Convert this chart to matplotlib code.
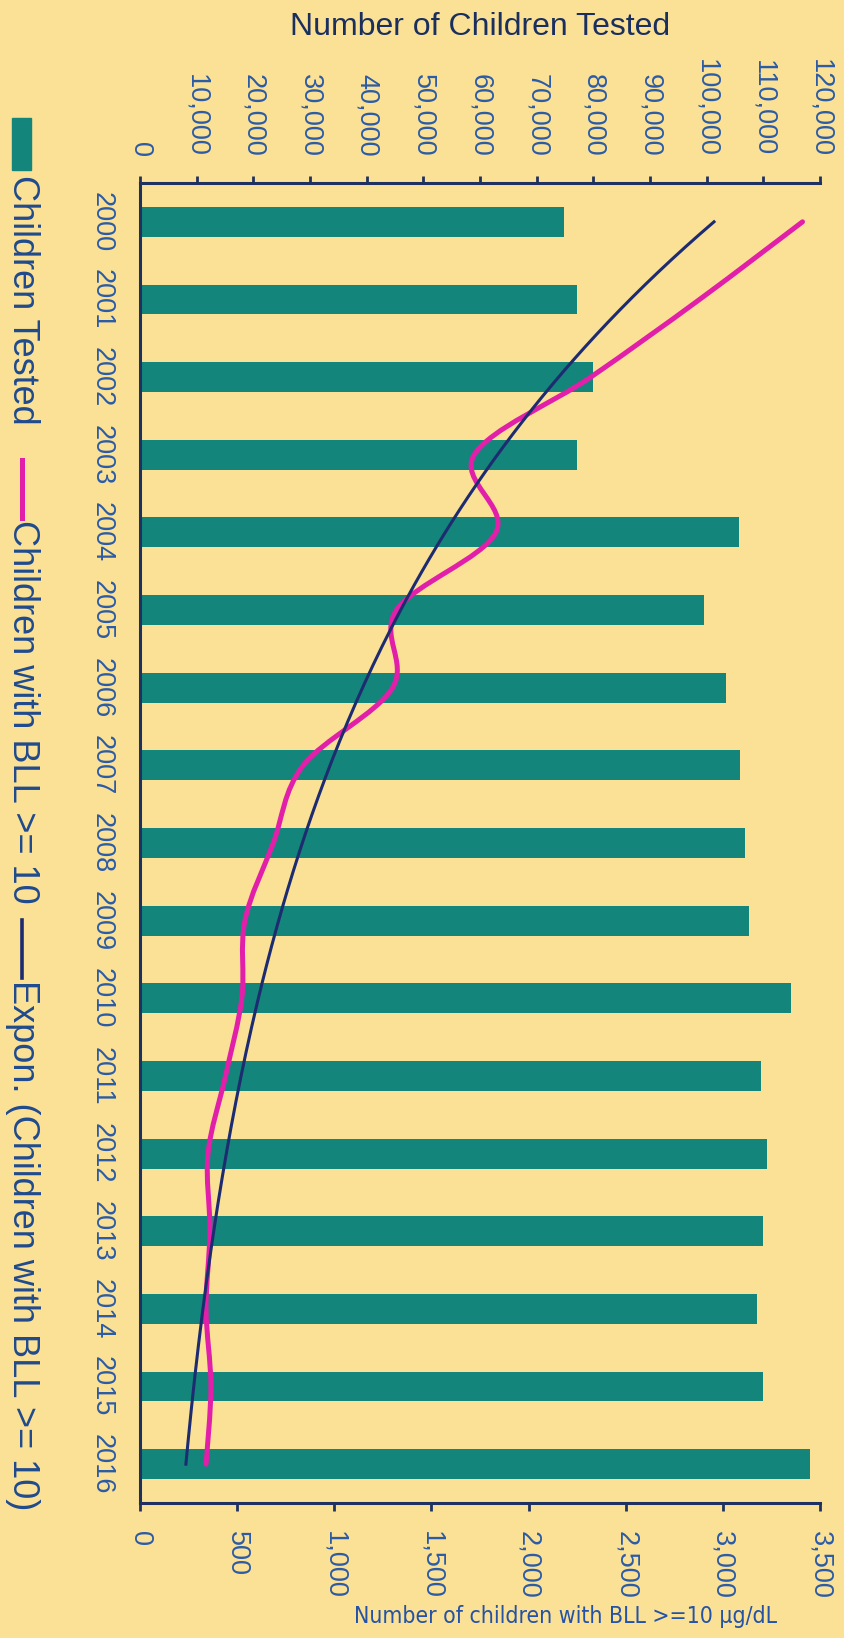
import numpy as np
import matplotlib.pyplot as plt
from matplotlib.path import Path
from matplotlib.patches import PathPatch, Rectangle
from matplotlib.lines import Line2D
from matplotlib.ticker import FuncFormatter

plt.rcParams['font.family'] = ['Liberation Sans', 'DejaVu Sans']

# blood lead testing, 2000-2016
years = [str(y) for y in range(2000, 2017)]
tested = [74800, 77100, 79900, 77100, 105700, 99500, 103400, 105800, 106700,
          107500, 114800, 109500, 110600, 110000, 108900, 110000, 118200]
bll10 = [3410, 2880, 2320, 1720, 1832, 1320, 1300, 840, 686,
         540, 524, 440, 350, 360, 340, 365, 340]

BG = '#fae196'
TEAL = '#13857a'
MAGENTA = '#e21fa8'
NAVY = '#1d2b70'
AXIS = '#1f3160'
TICKTXT = '#2b5ba6'

W, H = 844, 1638
fig = plt.figure(figsize=(W / 100, H / 100), dpi=100, facecolor=BG)

def fx(px):
    return px / W

def fy(py):
    return 1 - py / H

ax = fig.add_axes([fx(140), fy(1503), fx(820) - fx(140), fy(183) - fy(1503)])
ax.set_facecolor(BG)
# secondary scale for the BLL >= 10 counts
ax2 = ax.twiny()
ax2.patch.set_visible(False)

idx = np.arange(len(years))
fmt = FuncFormatter(lambda v, p: f'{v:,.0f}')

ax.barh(idx, tested, height=0.385, color=TEAL, zorder=2)
ax.set_xlim(0, 120000)
ax.set_ylim(len(years) - 0.5, -0.5)
ax.xaxis.tick_top()
ax.xaxis.set_label_position('top')
ax.set_xticks(np.arange(0, 120001, 10000))
ax.xaxis.set_major_formatter(fmt)
ax.tick_params(axis='x', direction='out', length=5, width=2, color=AXIS,
               labelsize=19.5, labelcolor=TICKTXT, labelrotation=-90, pad=14)
ax.set_yticks(idx)
ax.set_yticklabels(years)
ax.tick_params(axis='y', length=0, labelsize=19.5, labelcolor=TICKTXT,
               labelrotation=-90, pad=18)
for lab in ax.get_yticklabels():
    lab.set_va('center')
for s in ['right', 'bottom']:
    ax.spines[s].set_visible(False)
for s in ['left', 'top']:
    ax.spines[s].set_color(AXIS)
    ax.spines[s].set_linewidth(2.2)

ax2.set_xlim(0, 3500)
ax2.set_ylim(len(years) - 0.5, -0.5)
ax2.xaxis.tick_bottom()
ax2.xaxis.set_label_position('bottom')
ax2.set_xticks(np.arange(0, 3501, 500))
ax2.xaxis.set_major_formatter(fmt)
ax2.tick_params(axis='x', direction='out', length=6, width=2, color=AXIS,
                labelsize=19.5, labelcolor=TICKTXT, labelrotation=-90, pad=14)
for s in ['left', 'right', 'top']:
    ax2.spines[s].set_visible(False)
ax2.spines['bottom'].set_color(AXIS)
ax2.spines['bottom'].set_linewidth(2.2)

# smoothed line through the yearly counts (cubic bezier segments)
pts = np.column_stack([bll10, idx]).astype(float)
ext = np.vstack([pts[0], pts, pts[-1]])
verts = [tuple(pts[0])]
codes = [Path.MOVETO]
for i in range(len(pts) - 1):
    p0, p1, p2, p3 = ext[i], ext[i + 1], ext[i + 2], ext[i + 3]
    c1 = p1 + (p2 - p0) / 6
    c2 = p2 - (p3 - p1) / 6
    verts += [tuple(c1), tuple(c2), tuple(p2)]
    codes += [Path.CURVE4] * 3
ax2.add_patch(PathPatch(Path(verts, codes), facecolor='none', edgecolor=MAGENTA,
                        lw=3.6, capstyle='round', zorder=4))

# exponential trendline
b, a = np.polyfit(idx, np.log(bll10), 1)
tx = np.linspace(0, len(years) - 1, 200)
ax2.plot(np.exp(a + b * tx), tx, color=NAVY, lw=2.2, zorder=5)

fig.text(fx(480), fy(27), 'Number of Children Tested', ha='center', va='center',
         fontsize=23, color='#1b2f5e')
fig.text(fx(566), fy(1616), 'Number of children with BLL >=10 \u00b5g/dL',
         ha='center', va='center', fontsize=16.5, color='#2452a6',
         family='DejaVu Sans', fontstretch='condensed')

# legend, running down the left edge
LEG = '#1f4a8c'
fig.add_artist(Rectangle((fx(12), fy(170)), fx(19), fy(118) - fy(170),
                         transform=fig.transFigure, color=TEAL))
fig.text(fx(22), fy(175), 'Children Tested', rotation=-90, ha='center', va='top',
         fontsize=26, color=LEG)
fig.add_artist(Line2D([fx(22), fx(22)], [fy(460), fy(518)], transform=fig.transFigure,
                      color=MAGENTA, lw=3.6))
fig.text(fx(22), fy(520), 'Children with BLL >= 10', rotation=-90, ha='center',
         va='top', fontsize=26, color=LEG)
fig.add_artist(Line2D([fx(22), fx(22)], [fy(920), fy(978)], transform=fig.transFigure,
                      color=NAVY, lw=2.6))
fig.text(fx(22), fy(980), 'Expon. (Children with BLL >= 10)', rotation=-90,
         ha='center', va='top', fontsize=26, color=LEG)

fig.savefig('out.png', dpi=100, facecolor=BG)
